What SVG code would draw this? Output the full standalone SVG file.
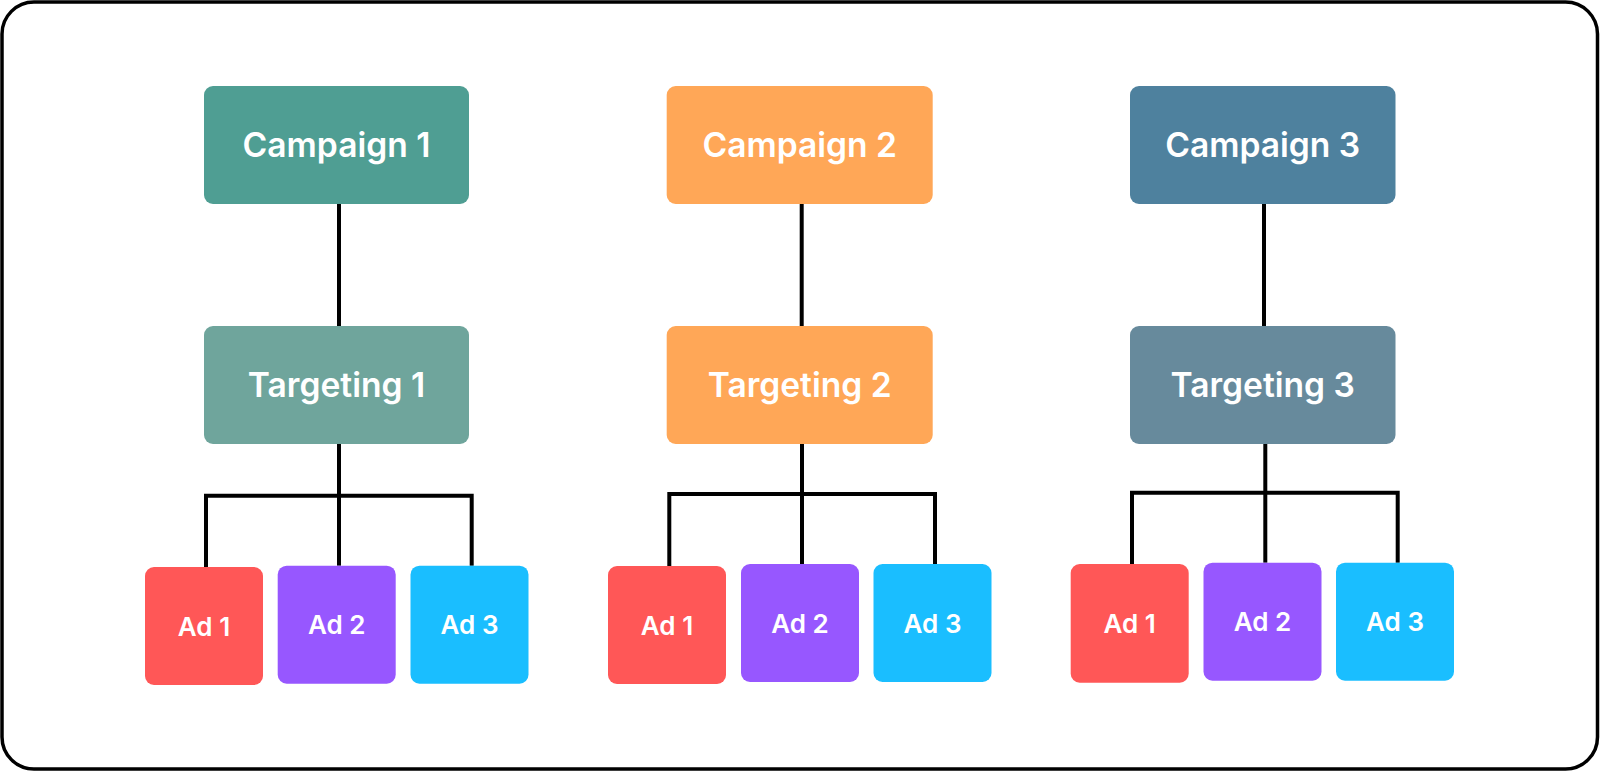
<svg xmlns="http://www.w3.org/2000/svg" width="1600" height="772" viewBox="0 0 1600 772">
  <style>
    .frame { fill: #ffffff; stroke: #000000; stroke-width: 3.5; }
    .link { fill: none; stroke: #000000; stroke-width: 4; stroke-linejoin: miter; stroke-linecap: butt; }
    .big { font-family: Inter, "Noto Sans", "Liberation Sans", sans-serif; font-weight: 600; font-size: 33.6px; fill: #ffffff; text-anchor: middle; }
    .small { font-family: Inter, "Noto Sans", "Liberation Sans", sans-serif; font-weight: 600; font-size: 26px; fill: #ffffff; text-anchor: middle; }
    .c1 { fill: #4F9E93; }
    .t1 { fill: #6FA59C; }
    .c2 { fill: #FFA757; }
    .c3 { fill: #4E819E; }
    .t3 { fill: #678A9C; }
    .ad1 { fill: #FF5757; }
    .ad2 { fill: #9757FF; }
    .ad3 { fill: #1ABEFF; }
  </style>
  <rect class="frame" x="2" y="2" width="1595.5" height="767" rx="32" ry="32"/>

  <g id="connectors">
    <path class="link" d="M339 204 V326"/>
    <path class="link" d="M339 444 V565.7"/>
    <path class="link" d="M206 567 V495.7 H471.7 V565.7"/>

    <path class="link" d="M801.7 204 V326"/>
    <path class="link" d="M802 444 V564"/>
    <path class="link" d="M669.3 566 V494 H935 V564"/>

    <path class="link" d="M1264 204 V326"/>
    <path class="link" d="M1265.3 444 V562.7"/>
    <path class="link" d="M1132 564 V492.7 H1397.7 V562.7"/>
  </g>

  <g id="campaign1">
    <rect class="c1" x="204" y="86" width="265" height="118" rx="9"/>
    <text class="big" x="336.5" y="157">Campaign 1</text>
  </g>
  <g id="targeting1">
    <rect class="t1" x="204" y="326" width="265" height="118" rx="9"/>
    <text class="big" x="336.5" y="397">Targeting 1</text>
  </g>
  <g id="c1-ad1">
    <rect class="ad1" x="145" y="567" width="118" height="118" rx="9"/>
    <text class="small" x="204" y="635.5">Ad 1</text>
  </g>
  <g id="c1-ad2">
    <rect class="ad2" x="277.7" y="565.7" width="118" height="118" rx="9"/>
    <text class="small" x="336.7" y="634.2">Ad 2</text>
  </g>
  <g id="c1-ad3">
    <rect class="ad3" x="410.5" y="565.7" width="118" height="118" rx="9"/>
    <text class="small" x="469.5" y="634.2">Ad 3</text>
  </g>

  <g id="campaign2">
    <rect class="c2" x="666.7" y="86" width="266" height="118" rx="9"/>
    <text class="big" x="799.7" y="157">Campaign 2</text>
  </g>
  <g id="targeting2">
    <rect class="c2" x="666.7" y="326" width="266" height="118" rx="9"/>
    <text class="big" x="799.7" y="397">Targeting 2</text>
  </g>
  <g id="c2-ad1">
    <rect class="ad1" x="608" y="566" width="118" height="118" rx="9"/>
    <text class="small" x="667" y="634.5">Ad 1</text>
  </g>
  <g id="c2-ad2">
    <rect class="ad2" x="741" y="564" width="118" height="118" rx="9"/>
    <text class="small" x="800" y="632.5">Ad 2</text>
  </g>
  <g id="c2-ad3">
    <rect class="ad3" x="873.5" y="564" width="118" height="118" rx="9"/>
    <text class="small" x="932.5" y="632.5">Ad 3</text>
  </g>

  <g id="campaign3">
    <rect class="c3" x="1130" y="86" width="265.5" height="118" rx="9"/>
    <text class="big" x="1262.7" y="157">Campaign 3</text>
  </g>
  <g id="targeting3">
    <rect class="t3" x="1130" y="326" width="265.5" height="118" rx="9"/>
    <text class="big" x="1262.7" y="397">Targeting 3</text>
  </g>
  <g id="c3-ad1">
    <rect class="ad1" x="1070.7" y="564" width="118" height="118.7" rx="9"/>
    <text class="small" x="1129.7" y="632.8">Ad 1</text>
  </g>
  <g id="c3-ad2">
    <rect class="ad2" x="1203.5" y="562.7" width="118" height="118" rx="9"/>
    <text class="small" x="1262.5" y="631.2">Ad 2</text>
  </g>
  <g id="c3-ad3">
    <rect class="ad3" x="1336" y="562.7" width="118" height="118" rx="9"/>
    <text class="small" x="1395" y="631.2">Ad 3</text>
  </g>
</svg>
